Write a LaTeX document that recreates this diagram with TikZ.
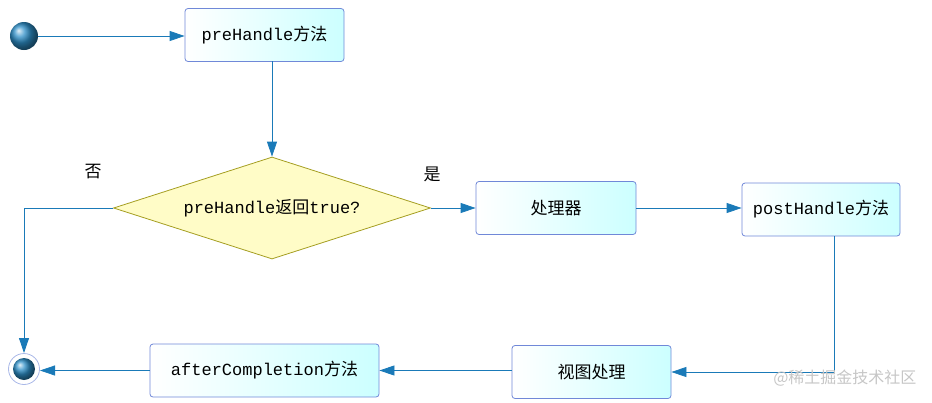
\documentclass[tikz,border=0pt]{standalone}
\usepackage{fontspec}
\setmainfont{Liberation Mono}
\newfontfamily\cjk{Noto Sans CJK SC}
\usetikzlibrary{shapes.geometric,arrows.meta}
\definecolor{ln}{HTML}{1A7AB8}
\definecolor{bd}{HTML}{7088D8}
\definecolor{bl}{HTML}{2E8FC8}
\tikzset{
 box/.style={draw=bd, line width=0.8pt, rounded corners=3pt, left color=white, right color=cyan!20, minimum height=53pt, font=\fontsize{17}{17}\selectfont, inner sep=0pt},
 dia/.style={diamond, draw=olive!80, line width=0.8pt, fill=yellow!22, minimum width=317pt, minimum height=102pt, aspect=3.1, inner sep=0pt, font=\fontsize{17}{17}\selectfont},
 arr/.style={draw=ln, line width=0.8pt, -{Triangle[length=15pt,width=10pt]}},
 lbl/.style={font=\cjk\fontsize{17}{17}\selectfont}
}
\begin{document}
\begin{tikzpicture}[x=1pt,y=-1pt]
\useasboundingbox (0,0) rectangle (932,402);
\shade[ball color=bl] (24,36) circle (14);
\coordinate (s) at (38,36);
\node[box, minimum width=159pt] (pre) at (264.5,35) {preHandle{\cjk 方法}};
\node[dia] (d) at (272,208) {preHandle{\cjk 返回}true?};
\node[box, minimum width=160pt] (h) at (556,208) {\cjk 处理器};
\node[box, minimum width=158pt] (post) at (821,209.5) {postHandle{\cjk 方法}};
\node[box, minimum width=159pt] (v) at (591.5,372) {\cjk 视图处理};
\node[box, minimum width=229pt] (a) at (264.5,370.5) {afterCompletion{\cjk 方法}};
\draw[draw=bd!60, line width=0.8pt, fill=white] (24,369) circle (15.5);
\shade[ball color=bl] (24,369) circle (11);
\node[lbl] at (93,172) {否};
\node[lbl] at (432,174) {是};
\draw[arr] (s) -- (pre.west |- s);
\draw[arr] (272,61) -- (d.north);
\draw[arr] (d.east) -- (h.west);
\draw[arr] (h.east) -- (post.west |- h.east);
\draw[arr] (834,236) -- (834,372) -- (v.east);
\draw[arr] (v.west |- a) -- (a.east);
\draw[arr] (a.west) -- (40,370.5);
\draw[arr] (d.west) -- (24,208) -- (24,353);
\node[font=\cjk\fontsize{16}{16}\selectfont, text=gray!45, anchor=east] at (920,378) {@稀土掘金技术社区};
\end{tikzpicture}
\end{document}
